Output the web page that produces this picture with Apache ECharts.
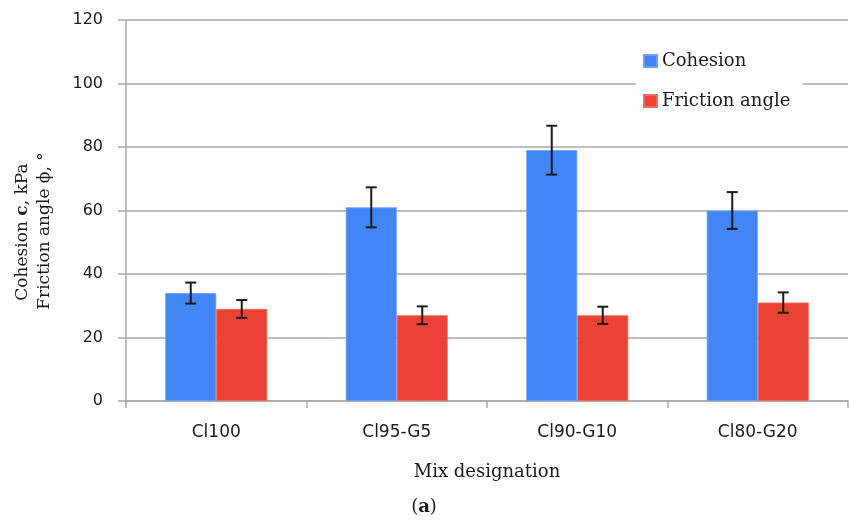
<!DOCTYPE html>
<html>
<head>
<meta charset="utf-8">
<script src="https://cdn.jsdelivr.net/npm/echarts@6/dist/echarts.min.js"></script>
<style>
  html, body { margin: 0; padding: 0; background: #fff; }
  #chart { width: 849px; height: 524px; }
</style>
</head>
<body>
<div id="chart"></div>
<script>
// Mix designations and measured shear strength parameters
const categories = ['Cl100', 'Cl95-G5', 'Cl90-G10', 'Cl80-G20'];
const cohesion = [34, 61, 79, 60];          // kPa
const cohesionErr = [3.3, 6.3, 7.7, 5.8];   // ± kPa
const friction = [29, 27, 27, 31];          // degrees
const frictionErr = [2.8, 2.8, 2.7, 3.2];   // ± degrees
const yTicks = [0, 20, 40, 60, 80, 100, 120];

const BAR_W = 51;
const SERIF = '"DejaVu Serif", serif';
const SANS = '"DejaVu Sans", sans-serif';
const AXIS_GREY = '#a9a9a9';
const TEXT = '#1a1a1a';

// Vertical error bar with caps, shifted sideways onto its bar
function errorBarSeries(name, values, errs, offset) {
  return {
    type: 'custom',
    name: name + ' error',
    data: values.map((v, i) => [i, v, errs[i]]),
    encode: { x: 0, y: 1 },
    z: 5,
    silent: true,
    renderItem: function (params, api) {
      const i = api.value(0), v = api.value(1), e = api.value(2);
      const hi = api.coord([i, v + e]);
      const lo = api.coord([i, v - e]);
      const x = hi[0] + offset;
      const cap = 5.5;
      const style = { stroke: '#1c1c1c', lineWidth: 2 };
      return {
        type: 'group',
        children: [
          { type: 'line', shape: { x1: x, y1: hi[1], x2: x, y2: lo[1] }, style: style },
          { type: 'line', shape: { x1: x - cap, y1: hi[1], x2: x + cap, y2: hi[1] }, style: style },
          { type: 'line', shape: { x1: x - cap, y1: lo[1], x2: x + cap, y2: lo[1] }, style: style }
        ]
      };
    }
  };
}

const chart = echarts.init(document.getElementById('chart'), null, { renderer: 'canvas' });
chart.setOption({
  animation: false,
  backgroundColor: '#fff',
  grid: { left: 126, right: 1, top: 20, bottom: 123, containLabel: false },
  legend: {
    data: ['Cohesion', 'Friction angle'],
    orient: 'vertical',
    left: 636,
    top: 45,
    padding: [6, 12, 6, 7],
    backgroundColor: '#fff',
    itemWidth: 13,
    itemHeight: 12,
    itemGap: 20,
    icon: 'rect',
    textStyle: { fontFamily: SERIF, fontSize: 18, color: TEXT, lineHeight: 20 },
    z: 10
  },
  xAxis: {
    type: 'category',
    data: categories,
    boundaryGap: true,
    axisLine: { show: true, lineStyle: { color: AXIS_GREY, width: 1.5 } },
    axisTick: { show: true, length: 7, alignWithLabel: false, lineStyle: { color: AXIS_GREY, width: 1.5 } },
    axisLabel: { fontFamily: SANS, fontSize: 17, color: TEXT, margin: 23 },
    name: 'Mix designation',
    nameLocation: 'middle',
    nameGap: 62,
    nameTextStyle: { fontFamily: SERIF, fontSize: 18, color: TEXT }
  },
  yAxis: {
    type: 'value',
    min: yTicks[0],
    max: yTicks[yTicks.length - 1],
    interval: yTicks[1] - yTicks[0],
    axisLine: { show: true, lineStyle: { color: AXIS_GREY, width: 1.5 } },
    axisTick: { show: true, length: 8, lineStyle: { color: AXIS_GREY, width: 1.5 } },
    splitLine: { show: true, lineStyle: { color: AXIS_GREY, width: 1.5 } },
    axisLabel: { fontFamily: SANS, fontSize: 16, color: TEXT, margin: 23 }
  },
  graphic: [
    {
      type: 'text',
      x: 23,
      y: 232,
      rotation: Math.PI / 2,
      style: {
        text: '{n|Cohesion }{b|c}{n|, kPa}',
        align: 'center',
        verticalAlign: 'middle',
        rich: {
          n: { fontFamily: SERIF, fontSize: 17, fill: TEXT },
          b: { fontFamily: SERIF, fontSize: 17, fontWeight: 'bold', fill: TEXT }
        }
      }
    },
    {
      type: 'text',
      x: 45,
      y: 231,
      rotation: Math.PI / 2,
      style: {
        text: 'Friction angle \u03D5, \u00B0',
        align: 'center',
        verticalAlign: 'middle',
        font: '17px ' + SERIF,
        fill: TEXT
      }
    },
    {
      type: 'text',
      x: 424,
      y: 507,
      style: {
        text: '{p|(}{a|a}{p|)}',
        align: 'center',
        verticalAlign: 'middle',
        rich: {
          p: { fontFamily: SERIF, fontSize: 18, fill: TEXT },
          a: { fontFamily: SERIF, fontSize: 18, fontWeight: 'bold', fill: TEXT }
        }
      }
    }
  ],
  series: [
    {
      name: 'Cohesion',
      type: 'bar',
      data: cohesion,
      barWidth: BAR_W,
      barGap: '0%',
      itemStyle: { color: '#4285f4', borderColor: '#6aa0f6', borderWidth: 0.8 }
    },
    {
      name: 'Friction angle',
      type: 'bar',
      data: friction,
      barWidth: BAR_W,
      barGap: '0%',
      itemStyle: { color: '#ea4335', borderColor: '#ee6a5f', borderWidth: 0.8 }
    },
    errorBarSeries('Cohesion', cohesion, cohesionErr, -BAR_W / 2),
    errorBarSeries('Friction angle', friction, frictionErr, BAR_W / 2)
  ]
});
</script>
</body>
</html>
